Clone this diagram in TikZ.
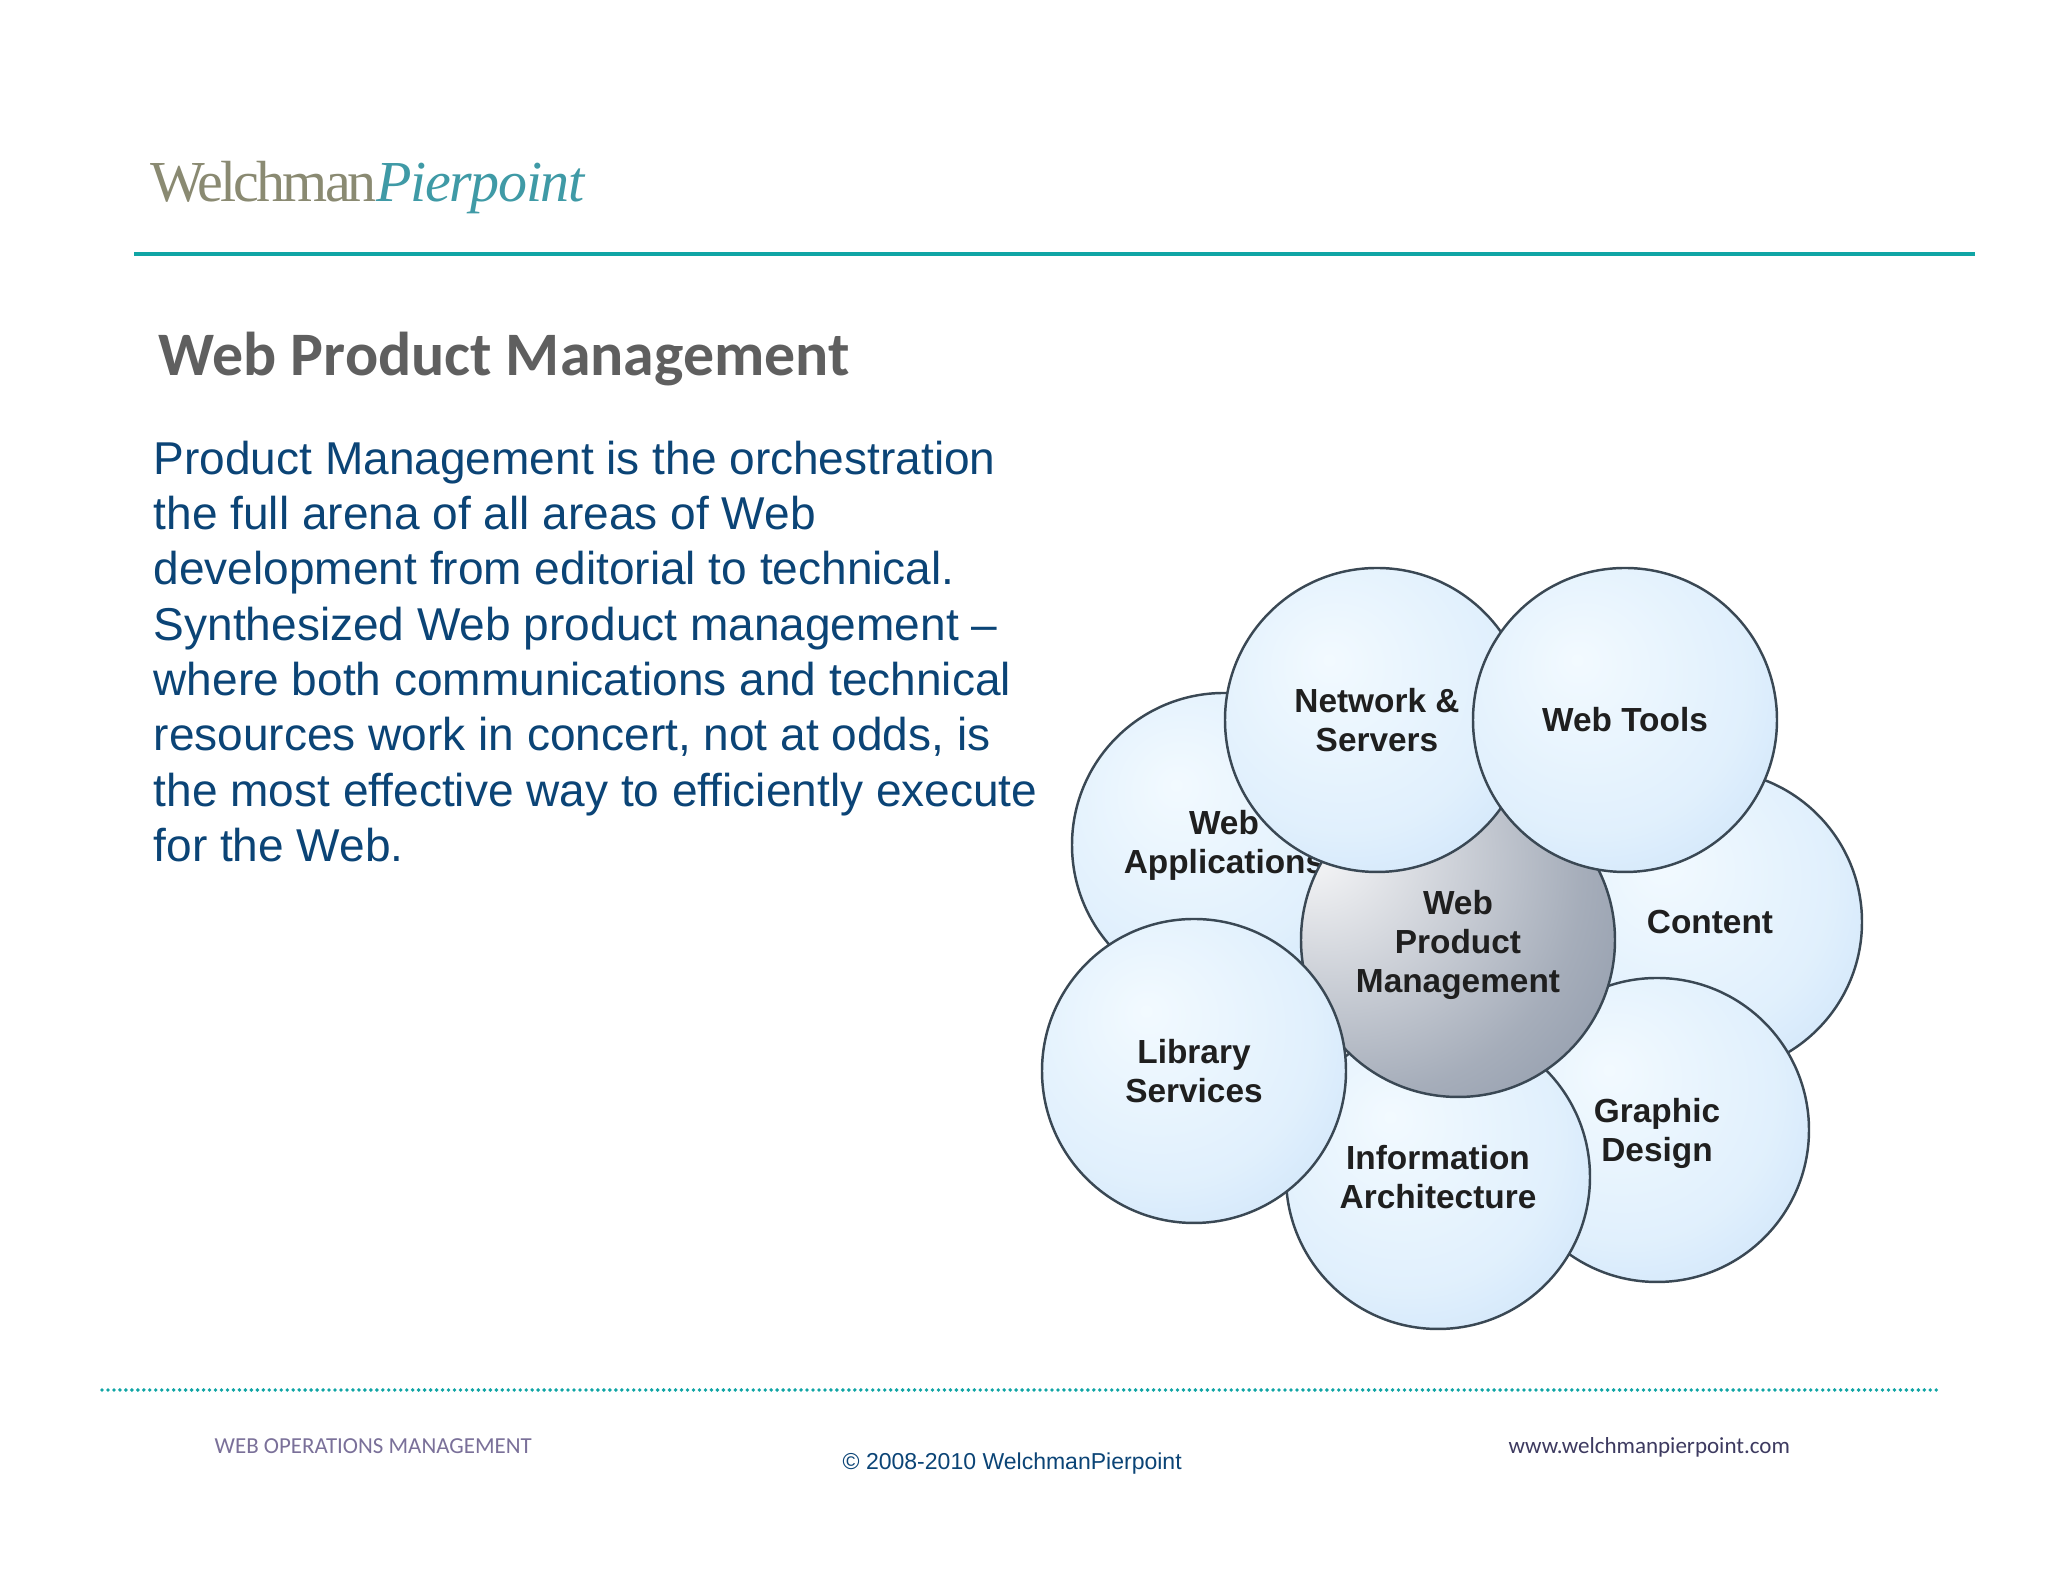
\documentclass[tikz,border=0pt]{standalone}
\usepackage{fontspec}
\setmainfont{Liberation Sans}
\newfontfamily\logofont{Liberation Serif}
\newfontfamily\slidefont{Carlito}

\definecolor{ruleteal}{HTML}{10A5A5}
\definecolor{bodyblue}{HTML}{0B4476}
\definecolor{titlegray}{HTML}{5F5F5F}
\definecolor{logogray}{HTML}{8A8A72}
\definecolor{logoteal}{HTML}{3F9AA6}
\definecolor{footpurple}{HTML}{7A7099}
\definecolor{footdark}{HTML}{3D3A60}
\definecolor{bubbleline}{HTML}{3A4854}

\pgfdeclareradialshading{bubble}{\pgfpoint{-8bp}{10bp}}{%
  rgb(0bp)=(0.95,0.98,1); rgb(25bp)=(0.88,0.94,0.99); rgb(50bp)=(0.74,0.85,0.97); rgb(70bp)=(0.66,0.80,0.96)}
\pgfdeclareradialshading{sphere}{\pgfpoint{-26bp}{18bp}}{%
  rgb(0bp)=(1,1,1); rgb(14bp)=(0.86,0.87,0.89); rgb(35bp)=(0.65,0.68,0.73); rgb(60bp)=(0.48,0.53,0.61); rgb(85bp)=(0.36,0.41,0.50)}

\tikzset{
  petal/.style={circle,draw=bubbleline,line width=0.7pt,shading=bubble,minimum size=3.04cm,inner sep=0pt,
    align=center,font=\fontsize{9.5}{11.1}\selectfont\bfseries,text=black!88},
  hub/.style={petal,shading=sphere,minimum size=3.14cm},
  slidetext/.style={anchor=base west,inner sep=0pt}
}

\begin{document}
\begin{tikzpicture}
        \useasboundingbox (0,0) rectangle (20.48,15.82);
        \fill[white] (0,0) rectangle (20.48,15.82);

        % header and footer
        \coordinate (headleft) at (1.34,13.28);
        \coordinate (headright) at (19.75,13.28);
        \coordinate (footleft) at (1.02,1.92);
        \coordinate (footright) at (19.39,1.92);
        \draw[ruleteal,line width=1.1pt] (headleft) -- (headright);
        \draw[ruleteal,line width=1.1pt,line cap=round,dash pattern=on 0pt off 1.7pt] (footleft) -- (footright);

        \draw
        (1.50,13.80) node[slidetext] (logo){\fontsize{16.5}{18}\logofont{\addfontfeature{LetterSpace=-5}\color{logogray}Welchman}{\addfontfeature{LetterSpace=-2.5}\color{logoteal}\itshape Pierpoint}}
        (1.58,12.06) node[slidetext,text=titlegray,font=\fontsize{17.6}{21}\slidefont\bfseries] (title){Web Product Management}
        (1.53,11.42) node[anchor=north west,inner sep=0pt,align=left,text=bodyblue,font=\fontsize{13.1}{15.75}\selectfont] (body){Product Management is the orchestration\\
the full arena of all areas of Web\\
development from editorial to technical.\\
Synthesized Web product management --\\
where both communications and technical\\
resources work in concert, not at odds, is\\
the most effective way to efficiently execute\\
for the Web.}
        (2.14,1.28) node[slidetext,text=footpurple,font=\fontsize{6.52}{8}\slidefont] (section){WEB OPERATIONS MANAGEMENT}
        (8.42,1.12) node[slidetext,text=bodyblue,font=\fontsize{6.55}{8}\selectfont] (copyright){© 2008-2010 WelchmanPierpoint}
        (15.08,1.28) node[slidetext,text=footdark,font=\fontsize{6.55}{8}\slidefont] (website){www.welchmanpierpoint.com};

        % petals, back to front
        \draw
        (12.24,7.37) node[petal] (webapps){Web\\Applications}
        (17.10,6.60) node[petal] (content){Content}
        (16.57,4.52) node[petal] (graphic){\rule{0pt}{9.1pt}Graphic\\Design}
        (14.38,4.05) node[petal] (infoarch){Information\\Architecture}
        (14.58,6.42) node[hub] (webpm){\rule{0pt}{9.6pt}Web\\Product\\Management}
        (11.94,5.11) node[petal] (library){Library\\Services}
        (13.77,8.62) node[petal] (network){Network \&\\Servers}
        (16.25,8.62) node[petal] (webtools){Web Tools};

    \end{tikzpicture}
\end{document}
